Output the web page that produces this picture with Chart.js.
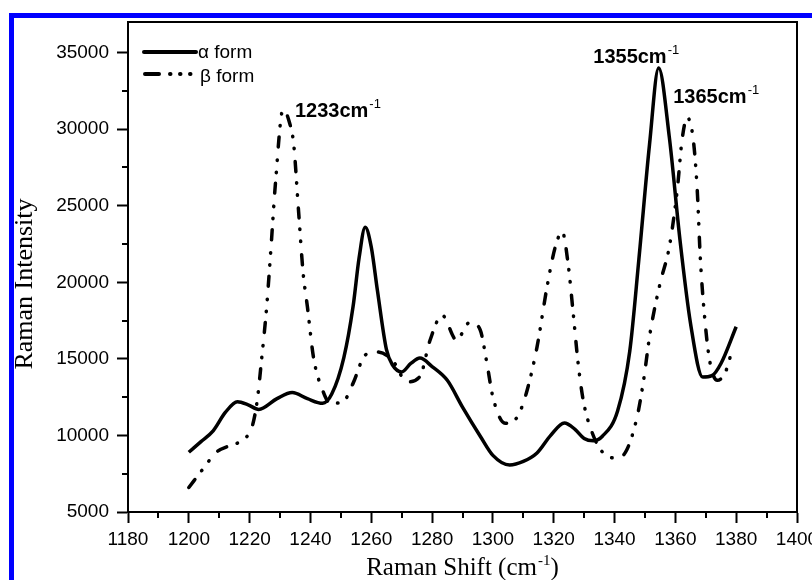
<!DOCTYPE html>
<html>
<head>
<meta charset="utf-8">
<script src="https://cdn.jsdelivr.net/npm/chart.js@4.4.0/dist/chart.umd.min.js"></script>
<style>
  html, body { margin: 0; padding: 0; background: #fff; overflow: hidden; }
  #frame { position: absolute; left: 9px; top: 13px; width: 900px; height: 700px; border: 5px solid #0000ff; box-sizing: border-box; }
  #chart { position: absolute; left: 0; top: 0; }
</style>
</head>
<body>
<div id="frame"></div>
<canvas id="chart" width="812" height="580"></canvas>
<script>
// alpha form (solid line)
const alphaShift = [1200, 1204, 1208, 1212, 1216, 1219.5, 1223, 1229, 1234, 1239, 1244, 1247, 1251, 1254, 1256, 1258, 1260, 1262, 1265, 1267, 1270, 1273, 1276, 1280, 1285, 1290, 1296, 1300, 1305.5, 1310, 1314.5, 1319, 1323.5, 1327, 1330, 1333, 1336, 1341, 1345, 1348, 1351.5, 1354.5, 1358, 1361.5, 1365, 1369, 1372, 1375, 1380];
const alphaIntensity = [8900, 9600, 10300, 11500, 12200, 12000, 11700, 12400, 12800, 12400, 12100, 12700, 15100, 18400, 21600, 23600, 22300, 19500, 15600, 14600, 14150, 14700, 15050, 14500, 13600, 11850, 9900, 8700, 8070, 8300, 8850, 10000, 10810, 10400, 9800, 9650, 9950, 11600, 15500, 21500, 29000, 34000, 29500, 22800, 17300, 13810, 13900, 14700, 17100];

// beta form (dash-dot-dot line)
const betaShift = [1200, 1205, 1209, 1213, 1216, 1219, 1221, 1222.5, 1224, 1225.6, 1227, 1228.5, 1231, 1233, 1234.5, 1236, 1237.6, 1239, 1241, 1244, 1246.5, 1250.5, 1254, 1258, 1262, 1267, 1271.8, 1276, 1279.3, 1283.3, 1288, 1292.5, 1295.8, 1298, 1300, 1304, 1308, 1311, 1314.5, 1317.8, 1320.5, 1322.8, 1324.7, 1326.4, 1328, 1329.7, 1332.6, 1336.3, 1340.9, 1344, 1347.4, 1349.4, 1351.7, 1355, 1358, 1360.6, 1362.2, 1363.9, 1365.9, 1367.2, 1368.2, 1369.8, 1371.4, 1373.8, 1376.4, 1378];
const betaIntensity = [6600, 7900, 8900, 9300, 9500, 9900, 10700, 12300, 15100, 18400, 22200, 26500, 31300, 30500, 29000, 24900, 20600, 18400, 15100, 12950, 12100, 12150, 13400, 15250, 15450, 14900, 13500, 13850, 16200, 17850, 16250, 17400, 16900, 14750, 12500, 10800, 11200, 12770, 15770, 19700, 22300, 23300, 21250, 18000, 14750, 12300, 10200, 8850, 8520, 9050, 11200, 13400, 16700, 19950, 22300, 26000, 29300, 30750, 29300, 26000, 21600, 17350, 14750, 13600, 14100, 15100];

const yTickValues = [5000, 10000, 15000, 20000, 25000, 30000, 35000];
const seriesNames = ['\u03b1 form', '\u03b2 form'];
const peakLabels = ['1233', '1355', '1365'];
const peakAnchorShift = [1234.9, 1333, 1359.3];
const peakAnchorIntensity = [30780, 34310, 31700];

const toPoints = (xs, ys) => xs.map((v, i) => ({ x: v, y: ys[i] }));

const sansFont = '"Liberation Sans", Arial, sans-serif';
const serifFont = '"Liberation Serif", "Times New Roman", serif';
const betaDash = [10, 11, 0.5, 11.5, 0.5, 13];

function withSup(ctx, base, sup, x, y, baseFont, supFont, rise) {
    ctx.font = baseFont;
    ctx.fillText(base, x, y);
    const w = ctx.measureText(base).width;
    ctx.font = supFont;
    ctx.fillText(sup, x + w + 1, y - rise);
}

function supWidth(ctx, base, sup, baseFont, supFont) {
    ctx.font = baseFont;
    const w = ctx.measureText(base).width;
    ctx.font = supFont;
    return w + 1 + ctx.measureText(sup).width;
}

const decorations = {
    id: 'decorations',
    afterDraw(chart) {
        const { ctx, chartArea: a, scales: { x, y } } = chart;
        ctx.save();
        ctx.strokeStyle = '#000';
        ctx.fillStyle = '#000';
        ctx.lineWidth = 2;
        ctx.strokeRect(a.left, a.top, a.right - a.left, a.bottom - a.top);

        // minor ticks
        ctx.beginPath();
        for (let v = 1190; v < 1400; v += 20) {
            const px = Math.round(x.getPixelForValue(v));
            ctx.moveTo(px, a.bottom);
            ctx.lineTo(px, a.bottom + 6);
        }
        for (let v = 7500; v < 37000; v += 5000) {
            const py = Math.round(y.getPixelForValue(v));
            ctx.moveTo(a.left, py);
            ctx.lineTo(a.left - 6, py);
        }
        ctx.stroke();

        // legend
        ctx.lineWidth = 4;
        ctx.lineCap = 'round';
        ctx.beginPath();
        ctx.moveTo(a.left + 16, a.top + 30);
        ctx.lineTo(a.left + 68, a.top + 30);
        ctx.stroke();
        ctx.setLineDash([14, 11, 0.5, 9.5, 0.5, 9.5, 0.5, 30]);
        ctx.beginPath();
        ctx.moveTo(a.left + 17, a.top + 52);
        ctx.lineTo(a.left + 64, a.top + 52);
        ctx.stroke();
        ctx.setLineDash([]);
        ctx.font = '19px ' + sansFont;
        ctx.textBaseline = 'middle';
        ctx.textAlign = 'left';
        ctx.fillText(seriesNames[0], a.left + 70, a.top + 31);
        ctx.fillText(seriesNames[1], a.left + 72, a.top + 55);

        // peak annotations
        ctx.textBaseline = 'alphabetic';
        peakLabels.forEach((t, i) => {
            withSup(ctx, t + 'cm', '-1',
                x.getPixelForValue(peakAnchorShift[i]), y.getPixelForValue(peakAnchorIntensity[i]),
                'bold 20px ' + sansFont, '13px ' + sansFont, 9);
        });

        // axis titles
        const tf = '25px ' + serifFont;
        const sf = '15px ' + serifFont;
        const tw = supWidth(ctx, 'Raman Shift (cm', '-1', tf, sf);
        ctx.font = tf;
        const closeW = ctx.measureText(')').width;
        const sx = (a.left + a.right) / 2 - (tw + closeW) / 2;
        withSup(ctx, 'Raman Shift (cm', '-1', sx, 575, tf, sf, 10);
        ctx.font = tf;
        ctx.fillText(')', sx + tw, 575);

        ctx.translate(25, 284);
        ctx.rotate(-Math.PI / 2);
        ctx.textAlign = 'center';
        ctx.textBaseline = 'middle';
        ctx.font = '26px ' + serifFont;
        ctx.fillText('Raman Intensity', 0, 0);
        ctx.restore();
    }
};

new Chart(document.getElementById('chart'), {
    type: 'line',
    data: {
        datasets: [
            {
                label: seriesNames[0],
                data: toPoints(alphaShift, alphaIntensity),
                borderColor: '#000',
                borderWidth: 3.5,
                pointRadius: 0,
                cubicInterpolationMode: 'monotone',
                fill: false
            },
            {
                label: seriesNames[1],
                data: toPoints(betaShift, betaIntensity),
                borderColor: '#000',
                borderWidth: 3.5,
                borderDash: betaDash,
                borderCapStyle: 'round',
                pointRadius: 0,
                cubicInterpolationMode: 'monotone',
                fill: false
            }
        ]
    },
    options: {
        responsive: false,
        animation: false,
        layout: { autoPadding: false, padding: { top: 22, right: 15, left: 0, bottom: 0 } },
        plugins: {
            legend: { display: false },
            tooltip: { enabled: false }
        },
        scales: {
            x: {
                type: 'linear',
                min: 1180,
                max: 1400,
                afterFit: s => { s.height = 68; s.paddingLeft = 0; s.paddingRight = 0; },
                ticks: {
                    stepSize: 20,
                    color: '#000',
                    padding: 5,
                    maxRotation: 0,
                    autoSkip: false,
                    font: { family: sansFont, size: 19 },
                    callback: v => String(v)
                },
                grid: { drawOnChartArea: false, tickLength: 11, tickWidth: 2, tickColor: '#000' },
                border: { display: true, color: '#000', width: 2 }
            },
            y: {
                type: 'linear',
                min: 5000,
                max: 37000,
                afterFit: s => { s.width = 128; s.paddingTop = 0; s.paddingBottom = 0; },
                afterBuildTicks: s => { s.ticks = yTickValues.map(v => ({ value: v })); },
                ticks: {
                    autoSkip: false,
                    color: '#000',
                    padding: 8,
                    font: { family: sansFont, size: 19 },
                    callback: v => String(v)
                },
                grid: { drawOnChartArea: false, tickLength: 11, tickWidth: 2, tickColor: '#000' },
                border: { display: true, color: '#000', width: 2 }
            }
        }
    },
    plugins: [decorations]
});
</script>
</body>
</html>
